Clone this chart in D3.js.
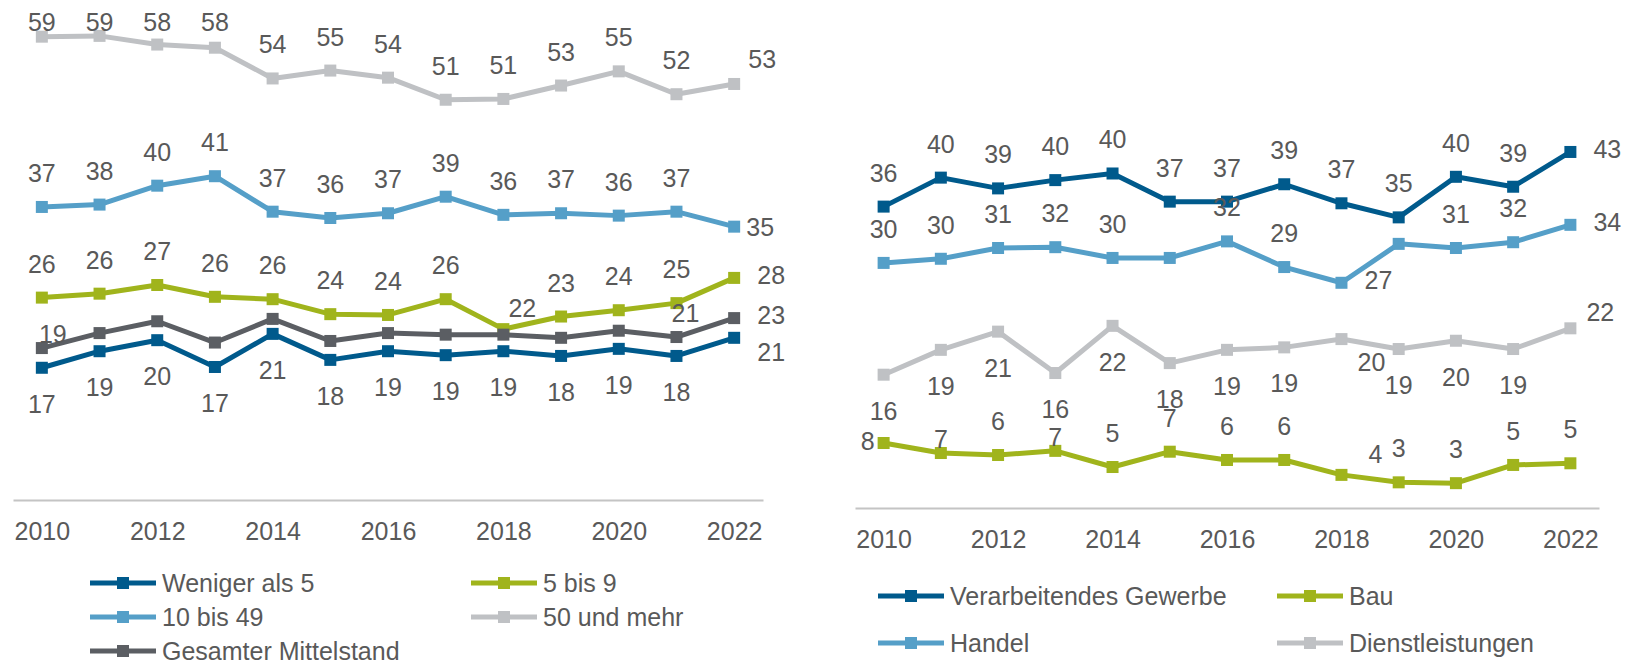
<!DOCTYPE html>
<html>
<head>
<meta charset="utf-8">
<script src="https://cdn.jsdelivr.net/npm/d3@7"></script>
<style>
  body { margin: 0; background: #fff; }
  text { font-family: "Liberation Sans", Arial, sans-serif; fill: #595959; }
</style>
</head>
<body>
<script>
// years on the x axis, only the even ones get a tick label
var years = [2010, 2011, 2012, 2013, 2014, 2015, 2016, 2017, 2018, 2019, 2020, 2021, 2022];
var tickYears = [2010, 2012, 2014, 2016, 2018, 2020, 2022];

// left panel: by company size
var wenigerAls5 = [16.9, 19.0, 20.4, 17.0, 21.2, 17.9, 19.0, 18.5, 19.0, 18.4, 19.3, 18.4, 20.7];
var fuenfBis9 = [25.8, 26.3, 27.4, 25.9, 25.6, 23.7, 23.6, 25.6, 21.8, 23.4, 24.2, 25.1, 28.3];
var zehnBis49 = [37.3, 37.6, 40.0, 41.2, 36.7, 35.9, 36.5, 38.6, 36.3, 36.5, 36.2, 36.7, 34.8];
var fuenfzigUndMehr = [58.9, 59.0, 57.9, 57.5, 53.6, 54.6, 53.7, 50.9, 51.0, 52.7, 54.5, 51.6, 52.9];
var gesamterMittelstand = [19.4, 21.3, 22.8, 20.1, 23.1, 20.3, 21.3, 21.1, 21.1, 20.7, 21.6, 20.8, 23.2];

// right panel: by sector
var verarbeitendesGewerbe = [36.4, 39.9, 38.6, 39.6, 40.4, 37.0, 37.0, 39.1, 36.8, 35.1, 40.0, 38.8, 43.0];
var handel = [29.6, 30.1, 31.4, 31.5, 30.2, 30.2, 32.2, 29.1, 27.2, 31.9, 31.4, 32.1, 34.2];
var bau = [7.85, 6.64, 6.4, 6.9, 4.95, 6.8, 5.8, 5.8, 4.0, 3.1, 3.0, 5.2, 5.4];
var dienstleistungen = [16.1, 19.1, 21.3, 16.3, 22.0, 17.5, 19.1, 19.4, 20.4, 19.2, 20.2, 19.2, 21.7];

var colors = {
    darkBlue: "#005a8c",
    green: "#a0b41c",
    lightBlue: "#559fc8",
    lightGray: "#bfc1c4",
    darkGray: "#5b5e63"
};

// where each value label sits relative to its marker (centre offset)
var spot = {
    a: [0, -34], b: [0, 36], n: [0, -14], l: [-16, -2],
    r: [26, 0], R: [37, -3], u: [28, -25], x: [19, -21],
    g: [11, -14], m: [9, -24], D: [37, 14], U: [30, -16],
    e: [30, 23], f: [34, -21]
};

var svg = d3.select("body")
    .append("svg")
    .attr("width", 1630)
    .attr("height", 665);

function drawPanel(p) {
    var x = d3.scalePoint()
        .domain(years)
        .range(p.xRange)
        .padding(0.5);

    var y = d3.scaleLinear()
        .domain(p.yDomain)
        .range(p.yRange);

    var g = svg.append("g");

    // x axis
    var axis = d3.axisBottom(x)
        .tickValues(tickYears)
        .tickSize(0)
        .tickSizeOuter(0)
        .tickPadding(22);

    var ax = g.append("g")
        .attr("transform", "translate(0," + p.axisY + ")")
        .call(axis);
    ax.select(".domain").attr("stroke", "#c4c4c4").attr("stroke-width", 2);
    ax.selectAll("text")
        .style("font-size", "25px")
        .attr("fill", "#595959")
        .style("font-family", "'Liberation Sans', Arial, sans-serif");

    var line = d3.line()
        .x(function(d, i) { return x(years[i]); })
        .y(function(d) { return y(d); });

    p.series.forEach(function(s) {
        g.append("path")
            .datum(s.values)
            .attr("fill", "none")
            .attr("stroke", s.color)
            .attr("stroke-width", 5)
            .attr("stroke-linejoin", "round")
            .attr("d", line);

        g.selectAll(null)
            .data(s.values)
            .enter()
            .append("rect")
            .attr("x", function(d, i) { return x(years[i]) - 6; })
            .attr("y", function(d) { return y(d) - 6; })
            .attr("width", 12)
            .attr("height", 12)
            .attr("fill", s.color);
    });

    // value labels on top of everything
    p.series.forEach(function(s) {
        s.values.forEach(function(v, i) {
            var code = s.spots[i];
            if (code == "-") return;
            var off = spot[code];
            var cy = Math.max(22, y(v) + off[1]);
            g.append("text")
                .attr("x", x(years[i]) + off[0])
                .attr("y", cy + 9)
                .attr("text-anchor", "middle")
                .style("font-size", "25px")
                .text(Math.round(v));
        });
    });

    // legend
    p.series.forEach(function(s) {
        var lx = p.legendCols[s.legend[0]];
        var ly = p.legendRows[s.legend[1]];
        g.append("line")
            .attr("x1", lx).attr("x2", lx + 66)
            .attr("y1", ly - 9).attr("y2", ly - 9)
            .attr("stroke", s.color)
            .attr("stroke-width", 5);
        g.append("rect")
            .attr("x", lx + 27).attr("y", ly - 15)
            .attr("width", 12).attr("height", 12)
            .attr("fill", s.color);
        g.append("text")
            .attr("x", lx + 72)
            .attr("y", ly)
            .style("font-size", "25px")
            .text(s.name);
    });
}

drawPanel({
    xRange: [13, 763],
    yDomain: [0, 60],
    yRange: [501, 28],
    axisY: 500,
    legendCols: [90, 471],
    legendRows: [592, 626, 660],
    series: [
        {name: "50 und mehr", values: fuenfzigUndMehr, color: colors.lightGray, spots: "aaaaaaaaaaaau", legend: [1, 1]},
        {name: "10 bis 49", values: zehnBis49, color: colors.lightBlue, spots: "aaaaaaaaaaaar", legend: [0, 1]},
        {name: "5 bis 9", values: fuenfBis9, color: colors.green, spots: "aaaaaaaaxaaaR", legend: [1, 0]},
        {name: "Weniger als 5", values: wenigerAls5, color: colors.darkBlue, spots: "bbbbbbbbbbbbD", legend: [0, 0]},
        {name: "Gesamter Mittelstand", values: gesamterMittelstand, color: colors.darkGray, spots: "g----------mR", legend: [0, 2]}
    ]
});

drawPanel({
    xRange: [855, 1599],
    yDomain: [0, 50],
    yRange: [508, 94],
    axisY: 508,
    legendCols: [878, 1277],
    legendRows: [605, 652],
    series: [
        {name: "Dienstleistungen", values: dienstleistungen, color: colors.lightGray, spots: "bbbbbbbbebbbU", legend: [1, 1]},
        {name: "Handel", values: handel, color: colors.lightBlue, spots: "aaaaa-aaR-aaR", legend: [0, 1]},
        {name: "Bau", values: bau, color: colors.green, spots: "lnanaaaafaaaa", legend: [1, 0]},
        {name: "Verarbeitendes Gewerbe", values: verarbeitendesGewerbe, color: colors.darkBlue, spots: "aaaaaaaaaaaaR", legend: [0, 0]}
    ]
});
</script>
</body>
</html>
